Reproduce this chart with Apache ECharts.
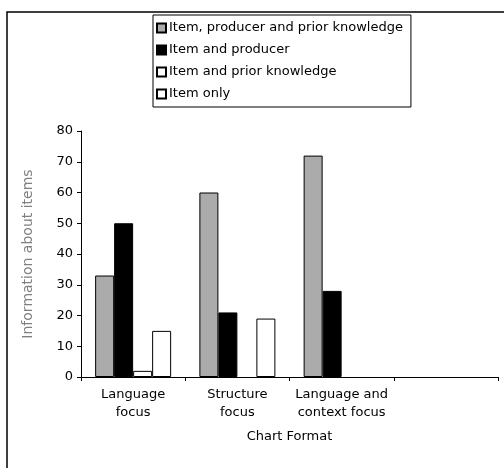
<!DOCTYPE html>
<html>
<head>
<meta charset="utf-8">
<script src="https://cdn.jsdelivr.net/npm/echarts@6/dist/echarts.min.js"></script>
<style>
  html, body { margin: 0; padding: 0; background: #fff; }
  #chart { width: 504px; height: 468px; }
</style>
</head>
<body>
<div id="chart"></div>
<script>
// data (null = no bar drawn)
const categories = ['Language\nfocus', 'Structure\nfocus', 'Language and\ncontext focus', ''];
const seriesNames = [
  'Item, producer and prior knowledge',
  'Item and producer',
  'Item and prior knowledge',
  'Item only'
];
const producerPrior = [33, 60, 72, null];
const producerOnly = [50, 21, 28, null];
const priorOnly = [2, null, null, null];
const itemOnly = [15, 19, null, null];
const yTicks = [0, 10, 20, 30, 40, 50, 60, 70, 80];

const font = 'DejaVu Sans';
const fills = ['#ababab', '#000000', '#ffffff', '#ffffff'];
const values = [producerPrior, producerOnly, priorOnly, itemOnly];

let myChart = echarts.init(document.getElementById('chart'));
myChart.setOption({
  animation: false,
  backgroundColor: '#fff',
  graphic: [
    {
      type: 'rect',
      shape: { x: 7, y: 12, width: 520, height: 480 },
      style: { fill: 'none', stroke: '#000', lineWidth: 1.5 },
      silent: true
    }
  ],
  legend: {
    orient: 'vertical',
    left: 153,
    top: 15,
    padding: [6, 8, 6, 3],
    borderColor: '#000',
    borderWidth: 1,
    icon: 'rect',
    itemWidth: 9,
    itemHeight: 9,
    itemGap: 8,
    textStyle: { fontFamily: font, fontSize: 13, lineHeight: 14, color: '#000', padding: [0, 0, 0, -2] },
    data: seriesNames
  },
  grid: {
    left: 81,
    right: 6,
    top: 131,
    bottom: 91
  },
  xAxis: {
    type: 'category',
    data: categories,
    name: 'Chart Format',
    nameLocation: 'middle',
    nameGap: 53,
    nameTextStyle: { fontFamily: font, fontSize: 13, color: '#000' },
    axisLine: { lineStyle: { color: '#000', width: 1 } },
    axisTick: { show: true, length: 4, lineStyle: { color: '#000' } },
    axisLabel: { fontFamily: font, fontSize: 13, color: '#000', lineHeight: 18, margin: 9, interval: 0 }
  },
  yAxis: {
    type: 'value',
    min: 0,
    max: 80,
    interval: 10,
    name: 'Information about items',
    nameLocation: 'middle',
    nameGap: 46,
    nameTextStyle: { fontFamily: font, fontSize: 14, color: '#808080' },
    axisLine: { show: true, lineStyle: { color: '#000', width: 1 } },
    axisTick: { show: true, length: 4, lineStyle: { color: '#000' } },
    axisLabel: {
      fontFamily: font, fontSize: 13, color: '#000', margin: 8,
      formatter: v => (yTicks.indexOf(v) >= 0 ? String(v) : '')
    },
    splitLine: { show: false }
  },
  series: seriesNames.map((name, i) => ({
    name: name,
    type: 'bar',
    data: values[i],
    barWidth: 19,
    barGap: '0%',
    itemStyle: { color: fills[i], borderColor: '#000', borderWidth: 1 }
  }))
});
</script>
</body>
</html>
